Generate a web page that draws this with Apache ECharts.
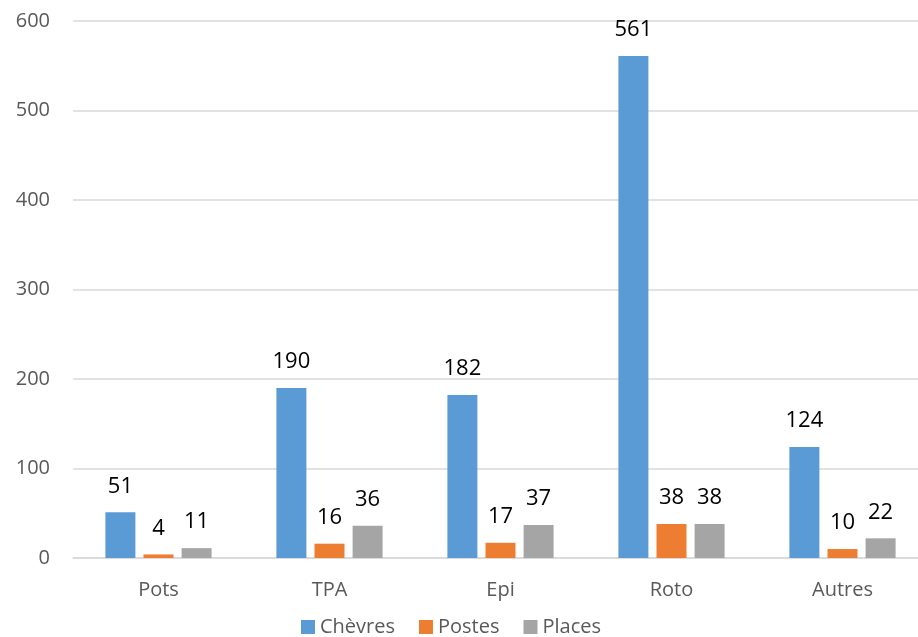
<!DOCTYPE html>
<html>
<head>
<meta charset="utf-8">
<script src="https://cdn.jsdelivr.net/npm/echarts@6/dist/echarts.min.js"></script>
<style>
  html, body { margin: 0; padding: 0; background: #ffffff; overflow: hidden; }
  /* the plot area runs a few pixels past the right edge of the window */
  #chart { width: 928px; height: 637px; }
</style>
</head>
<body>
<div id="chart"></div>
<script>
// Categories and per-series values
const categories = ['Pots', 'TPA', 'Epi', 'Roto', 'Autres'];
const chevres = [51, 190, 182, 561, 124];
const postes = [4, 16, 17, 38, 10];
const places = [11, 36, 37, 38, 22];
const yTicks = { min: 0, max: 600, interval: 100 };

const font = '"Open Sans", "Noto Sans", sans-serif';

function barSeries(name, data, color) {
  return {
    name: name,
    type: 'bar',
    data: data,
    barWidth: 30,
    barGap: '27%',
    itemStyle: { color: color },
    label: {
      show: true,
      position: 'top',
      distance: 15,
      color: '#000000',
      fontSize: 22,
      lineHeight: 22,
      fontFamily: font
    }
  };
}

const chart = echarts.init(document.getElementById('chart'), null, { renderer: 'canvas' });
chart.setOption({
  animation: false,
  backgroundColor: '#ffffff',
  grid: { left: 73, top: 21, right: 0, bottom: 79 },
  legend: {
    left: 301,
    bottom: 0,
    padding: 0,
    itemWidth: 14,
    itemHeight: 14,
    itemGap: 24,
    icon: 'rect',
    textStyle: { color: '#595959', fontSize: 20, lineHeight: 20, fontFamily: font }
  },
  xAxis: {
    type: 'category',
    data: categories,
    axisLine: { lineStyle: { color: '#D9D9D9', width: 1.5 } },
    axisTick: { show: false },
    axisLabel: { color: '#595959', fontSize: 20, fontFamily: font, margin: 22 }
  },
  yAxis: {
    type: 'value',
    min: yTicks.min,
    max: yTicks.max,
    interval: yTicks.interval,
    axisLine: { show: false },
    axisTick: { show: false },
    splitLine: { lineStyle: { color: '#D9D9D9', width: 1.5 } },
    axisLabel: { color: '#595959', fontSize: 20, fontFamily: font, margin: 23 }
  },
  series: [
    barSeries('Chèvres', chevres, '#5B9BD5'),
    barSeries('Postes', postes, '#ED7D31'),
    barSeries('Places', places, '#A5A5A5')
  ]
});
</script>
</body>
</html>
